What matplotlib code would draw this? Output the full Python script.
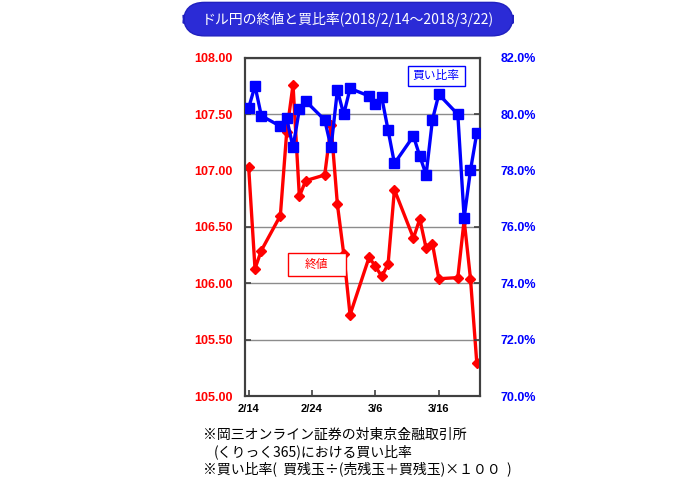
import matplotlib
matplotlib.use("Agg")
import matplotlib.pyplot as plt
import matplotlib.dates as mdates
from matplotlib.patches import FancyBboxPatch, Rectangle
import pandas as pd

# trading days 2018/2/14 - 2018/3/22
dates = ["2018-02-14", "2018-02-15", "2018-02-16", "2018-02-19", "2018-02-20",
         "2018-02-21", "2018-02-22", "2018-02-23", "2018-02-26", "2018-02-27",
         "2018-02-28", "2018-03-01", "2018-03-02", "2018-03-05", "2018-03-06",
         "2018-03-07", "2018-03-08", "2018-03-09", "2018-03-12", "2018-03-13",
         "2018-03-14", "2018-03-15", "2018-03-16", "2018-03-19", "2018-03-20",
         "2018-03-21", "2018-03-22"]

# USD/JPY close (left axis)
close = [107.03, 106.13, 106.29, 106.60, 107.34, 107.76, 106.77, 106.91, 106.96,
         107.40, 106.70, 106.26, 105.72, 106.23, 106.15, 106.06, 106.17, 106.83,
         106.40, 106.57, 106.31, 106.35, 106.04, 106.05, 106.56, 106.04, 105.29]

# buy ratio % (right axis)
buy_ratio = [80.22, 81.00, 79.94, 79.57, 79.85, 78.82, 80.17, 80.46, 79.79,
             78.82, 80.85, 79.99, 80.91, 80.64, 80.34, 80.59, 79.43, 78.25,
             79.22, 78.51, 77.85, 79.80, 80.70, 79.99, 76.31, 78.01, 79.33]

tick_dates = ["2018-02-14", "2018-02-24", "2018-03-06", "2018-03-16"]
tick_labels = ["2/14", "2/24", "3/6", "3/16"]

left_ticks = [105.0, 105.5, 106.0, 106.5, 107.0, 107.5, 108.0]
right_ticks = [70, 72, 74, 76, 78, 80, 82]

title = "ドル円の終値と買比率(2018/2/14～2018/3/22)"
notes = ["※岡三オンライン証券の対東京金融取引所",
         "(くりっく365)における買い比率",
         "※買い比率(  買残玉÷(売残玉＋買残玉)×１００  )"]

jp = ["Noto Sans CJK JP", "DejaVu Sans"]
num_font = ["Liberation Sans", "DejaVu Sans"]

x = mdates.date2num(pd.to_datetime(dates))
xt = mdates.date2num(pd.to_datetime(tick_dates))

fig = plt.figure(figsize=(7, 4.78), dpi=100)
ax = fig.add_axes([0.3507, 0.1715, 0.335, 0.7078])
ax2 = ax.twinx()

ax.plot(x, close, color="#ff0000", lw=2.4, marker="D", ms=5.5, zorder=3)
ax2.plot(x, buy_ratio, color="#0000ff", lw=2.4, marker="s", ms=6.5, zorder=3)

ax.set_xlim(x[0] - 0.5, x[-1] + 0.5)
ax.set_xticks(xt)
ax.set_xticklabels(tick_labels, family=num_font, weight="bold", fontsize=8)

ax.set_ylim(105, 108)
ax.set_yticks(left_ticks)
ax.set_yticklabels([f"{v:.2f}" for v in left_ticks], family=num_font,
                   weight="bold", fontsize=9, color="#ff0000")
ax2.set_ylim(70, 82)
ax2.set_yticks(right_ticks)
ax2.set_yticklabels([f"{v:.1f}%" for v in right_ticks], family=num_font,
                    weight="bold", fontsize=9, color="#0000ff")

ax.grid(axis="y", color="#8c8c8c", lw=1)
ax.set_axisbelow(True)
for a in (ax, ax2):
    for s in a.spines.values():
        s.set_color("#404040")
        s.set_linewidth(1.5)
ax.tick_params(axis="x", direction="in", length=4, width=1.2, color="#404040", pad=6)
ax.tick_params(axis="y", direction="in", length=4, width=1.2, color="#404040", pad=9)
ax2.tick_params(axis="y", direction="in", length=4, width=1.2, color="#404040", pad=15)

# legend boxes
ax.add_patch(Rectangle((0.181, 0.355), 0.246, 0.069, transform=ax.transAxes,
                       fc="white", ec="#ff0000", lw=1.0, zorder=5))
ax.text(0.304, 0.390, "終値", transform=ax.transAxes, ha="center", va="center",
        color="#ff0000", fontsize=8.5, family=jp, zorder=6)
ax2.add_patch(Rectangle((0.693, 0.917), 0.243, 0.059, transform=ax2.transAxes,
                        fc="white", ec="#0000ff", lw=1.0, zorder=5))
ax2.text(0.814, 0.947, "買い比率", transform=ax2.transAxes, ha="center", va="center",
         color="#0000ff", fontsize=8.5, family=jp, zorder=6)

# title banner
fig.patches.append(FancyBboxPatch((0.262, 0.925), 0.471, 0.070,
                                  boxstyle="round,pad=0,rounding_size=0.03",
                                  transform=fig.transFigure, fc="#2b2bd6",
                                  ec="#2020c0", lw=1, mutation_aspect=1.46))
fig.text(0.497, 0.960, title, ha="center", va="center", color="white",
         fontsize=10, family=jp)

# footnotes
fig.text(0.290, 0.090, notes[0], ha="left", va="center", fontsize=10, family=jp)
fig.text(0.305, 0.055, notes[1], ha="left", va="center", fontsize=10, family=jp)
fig.text(0.290, 0.019, notes[2], ha="left", va="center", fontsize=10, family=jp)

fig.savefig("out.png", dpi=100, facecolor="white")
